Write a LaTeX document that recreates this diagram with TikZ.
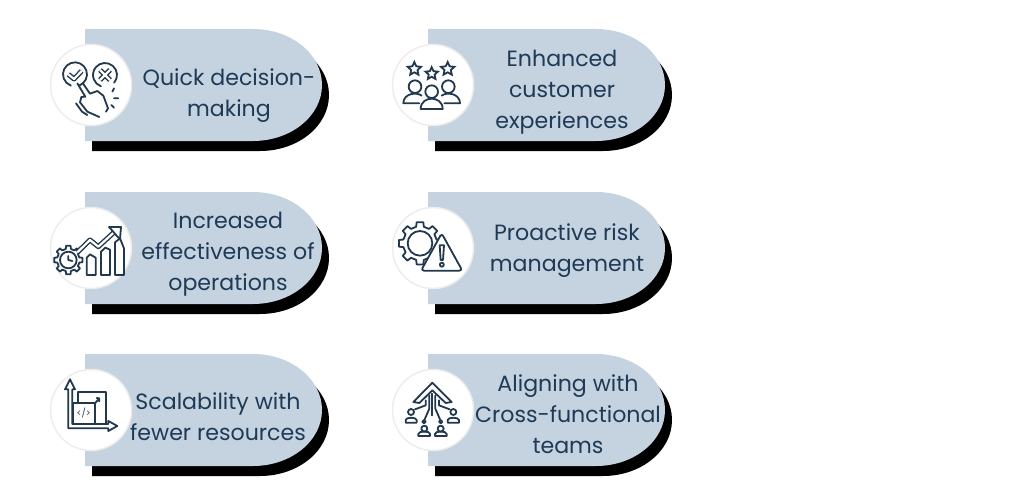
\documentclass[tikz,border=0pt]{standalone}
\usepackage{fontspec}
\setmainfont{Poppins}
\usetikzlibrary{shapes}
\definecolor{paneblue}{HTML}{C5D3E0}
\definecolor{inkblue}{HTML}{1E3A56}
\definecolor{iconblue}{HTML}{22384E}
\tikzset{
    disc/.style = {circle, fill=white, draw=black!7, line width=1.5pt, minimum size=81pt, inner sep=0pt},
    caption/.style = {text=inkblue, align=center, font=\fontsize{22.1pt}{31pt}\selectfont, inner sep=0pt},
    icon/.style = {draw=iconblue, line width=1.8pt, line join=round, line cap=round},
    hollow/.style = {draw=iconblue, double=white, double distance=2.2pt, line width=1.4pt, line join=round},
    starmark/.style = {star, star points=5, star point ratio=2.1, draw=iconblue, line width=1.8pt,
        minimum size=14pt, inner sep=0pt},
    panel/.pic = {
        \fill[black] (7,10) -- (175,10) arc[start angle=-90, end angle=90, x radius=69, y radius=56] -- (7,122) -- cycle;
        \fill[paneblue] (0,0) -- (168,0) arc[start angle=-90, end angle=90, x radius=69, y radius=56] -- (0,112) -- cycle;
    }
}
\newcommand{\gearpath}[3]{
    \draw[icon] (-12:#1) \foreach \a in {0,45,...,315} {
        -- ({\a-#3-4}:#1) -- ({\a-#3}:#2) -- ({\a+#3}:#2) -- ({\a+#3+4}:#1) } -- cycle;
}
\newcommand{\iconchoice}{
    \draw[icon] (105,58) ++(70:36) arc (70:-250:36);
    \draw[icon] (195,60) ++(40:36) arc (40:-250:36);
    \draw[hollow] (85,58) -- (102,72) -- (125,48);
    \draw[hollow] (180,45) -- (210,75) (210,45) -- (180,75);
    \draw[icon] (112,85) -- (136,125) -- (124,126) -- (120,142) -- (142,170) -- (178,186);
    \draw[icon] (128,84) -- (150,116) -- (172,108) -- (190,122) -- (204,160) -- (198,170);
    \draw[icon] (108,145) -- (126,170) -- (142,180);
    \draw[icon] (222,100) -- (217,110) (222,130) -- (235,130) (214,150) -- (222,158);
}
\newcommand{\icongrowth}{
    \begin{scope}[shift={(85,195)}]
        \gearpath{34}{43}{9}
        \draw[icon] (0,0) circle (25);
        \draw[icon] (0,-12) -- (0,0) -- (12,3);
    \end{scope}
    \draw[icon] (140,240) -- (140,188) -- (150,178) -- (167,188) -- (167,240) -- cycle;
    \draw[icon] (183,240) -- (183,170) -- (196,158) -- (210,164) -- (210,240) -- cycle;
    \draw[icon] (225,240) -- (225,142) -- (240,130) -- (252,160) -- (252,240) -- cycle;
    \draw[hollow] (112,172) -- (150,135) -- (175,155) -- (222,112);
    \draw[icon,fill=white] (207,96) -- (243,96) -- (240,133) -- (228,120) -- (218,108) -- cycle;
}
\newcommand{\iconscale}{
    \draw[icon] (85,88) -- (75,88) -- (90,58) -- (105,88) -- (97,88) -- (97,192) -- (205,192) -- (205,183) -- (232,198) -- (205,213) -- (205,205) -- (85,205) -- cycle;
    \draw[icon] (115,130) -- (115,97) -- (197,97) -- (197,192);
    \draw[icon] (100,130) -- (165,130) -- (165,192) (100,130) -- (100,192);
    \draw[icon] (165,130) -- (178,115) (170,114) -- (178,115) -- (178,124);
    \node[text=iconblue, inner sep=0pt, font=\fontsize{9pt}{9pt}\selectfont] (codetag) at (131,160) {</>};
}
\newcommand{\iconcrowd}{
    \node[starmark] (staro) at (88,87) {};
    \node[starmark,minimum size=13pt] (stara) at (140,101) {};
    \node[starmark] (starb) at (188,87) {};
    \draw[icon] (90,140) circle (19) (190,140) circle (19);
    \draw[icon,fill=white] (140,155) circle (19);
    \draw[icon] (110,167) .. controls (95,155) and (55,160) .. (55,190) -- (103,190);
    \draw[icon] (170,167) .. controls (185,155) and (225,160) .. (225,190) -- (178,190);
    \draw[icon] (107,207) .. controls (107,185) and (125,176) .. (140,176) .. controls (155,176) and (173,185) .. (173,207) -- cycle;
}
\newcommand{\iconrisk}{
    \begin{scope}[shift={(105,130)}]
        \gearpath{51}{64}{9}
        \draw[icon] (0,0) circle (37);
    \end{scope}
    \draw[icon,fill=white,rounded corners=3pt] (170,100) -- (232,212) -- (108,212) -- cycle;
    \draw[icon] (164,136) -- (177,136) -- (174,180) -- (167,180) -- cycle;
    \draw[icon] (170.5,194) circle (6);
}
\newcommand{\iconalign}{
    \draw[icon] (85,120) -- (142,62) -- (200,120) -- (182,123) -- (142,85) -- (103,123) -- cycle;
    \draw[icon] (142,95) -- (142,160);
    \draw[icon] (133,100) -- (133,140) -- (119,172) (151,100) -- (151,140) -- (165,172);
    \draw[icon] (122,115) -- (122,130) -- (90,142) (162,115) -- (162,130) -- (194,142);
    \draw[icon] (117,179) circle (5) (167,179) circle (5);
    \draw[icon] (78,150) circle (9) (205,150) circle (9) (118,200) circle (9) (167,200) circle (9);
    \draw[icon] (62,182) -- (62,174) .. controls (62,165) and (95,165) .. (95,174) -- (95,182) -- cycle;
    \draw[icon] (188,182) -- (188,174) .. controls (188,165) and (222,165) .. (222,174) -- (222,182) -- cycle;
    \draw[icon] (100,222) -- (100,216) .. controls (100,206) and (135,206) .. (135,216) -- (135,222) -- cycle;
    \draw[icon] (150,222) -- (150,216) .. controls (150,206) and (185,206) .. (185,216) -- (185,222) -- cycle;
}

\begin{document}
\begin{tikzpicture}[x=1pt, y=-1pt]
    \useasboundingbox (0,0) rectangle (1024,503);
    \pic at (85,29) {panel};
    \pic at (428,29) {panel};
    \pic at (85,192) {panel};
    \pic at (428,192) {panel};
    \pic at (85,354) {panel};
    \pic at (428,354) {panel};

    \node [disc] (quick) at (91,85) {};
    \node [caption, right of=quick, node distance=138pt, yshift=-11pt] (quicktext) {Quick decision-\\making};
    \begin{scope}[shift={(40,55)}, scale=1/3] \iconchoice \end{scope}

    \node [disc] (custom) at (433,85) {};
    \node [caption, right of=custom, node distance=129pt, yshift=-7pt] (customtext) {Enhanced\\customer\\experiences};
    \begin{scope}[shift={(385,40)}, scale=1/3] \iconcrowd \end{scope}

    \node [disc] (effect) at (91,248) {};
    \node [caption, right of=effect, node distance=137pt, yshift=-6pt] (effecttext) {Increased\\effectiveness of\\operations};
    \begin{scope}[shift={(40,195)}, scale=1/3] \icongrowth \end{scope}

    \node [disc] (risk) at (433,248) {};
    \node [caption, right of=risk, node distance=134pt, yshift=-3pt] (risktext) {Proactive risk\\management};
    \begin{scope}[shift={(385,200)}, scale=1/3] \iconrisk \end{scope}

    \node [disc] (scale) at (91,410) {};
    \node [caption, right of=scale, node distance=127pt, yshift=-6.5pt] (scaletext) {Scalability with\\fewer resources};
    \begin{scope}[shift={(40,360)}, scale=1/3] \iconscale \end{scope}

    \node [disc] (teams) at (433,410) {};
    \node [caption, right of=teams, node distance=135pt, yshift=-4pt] (teamstext) {Aligning with\\Cross-functional\\teams};
    \begin{scope}[shift={(385,362)}, scale=1/3] \iconalign \end{scope}
\end{tikzpicture}
\end{document}
